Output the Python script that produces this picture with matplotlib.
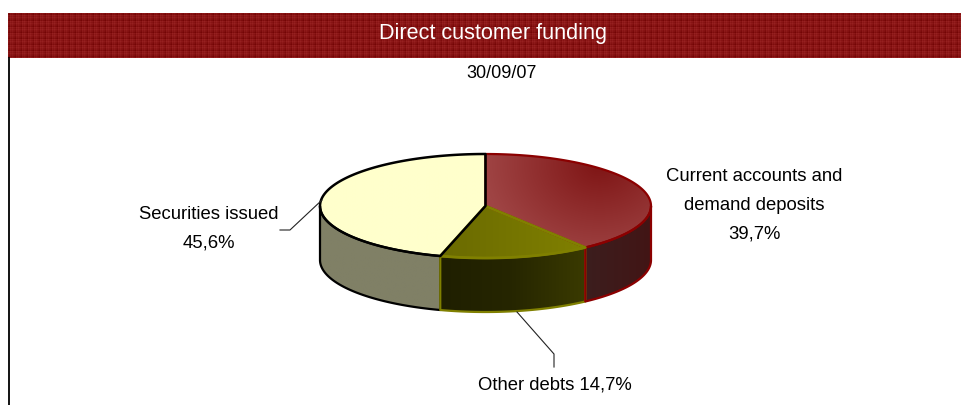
import numpy as np
import matplotlib
matplotlib.use("Agg")
import matplotlib.pyplot as plt
from matplotlib.colors import LinearSegmentedColormap, to_rgb
from matplotlib.patches import Polygon

shares = [39.7, 14.7, 45.6]
labels = ["Current accounts and\ndemand deposits\n39,7%", "Other debts 14,7%", "Securities issued\n45,6%"]
title = "Direct customer funding"
date = "30/09/07"

CX, CY, A, B, DEPTH = 485.5, 206, 165.5, 52, 54

plt.rcParams["font.family"] = ["Liberation Sans", "DejaVu Sans"]

fig = plt.figure(figsize=(9.62, 4.05), dpi=100)
ax = fig.add_axes([0, 0, 1, 1])


def rim(t0, t1, dy=0):
    t = np.radians(np.linspace(t0, t1, 200))
    return np.column_stack([CX + A * np.sin(t), CY + dy - B * np.cos(t)])


def fill_image(verts, img, edge, lw):
    poly = Polygon(verts, closed=True, facecolor="none", edgecolor="none")
    ax.add_patch(poly)
    x0, y0 = verts.min(axis=0)
    x1, y1 = verts.max(axis=0)
    im = ax.imshow(img, aspect="auto", extent=[x0, x1, y1, y0], zorder=2, interpolation="bilinear")
    im.set_clip_path(poly)
    ax.add_patch(Polygon(verts, closed=True, facecolor="none", edgecolor=edge,
                         linewidth=lw, zorder=3, joinstyle="round"))


def fill_gradient(verts, colors, edge, lw=1.6):
    cmap = LinearSegmentedColormap.from_list("g", colors)
    fill_image(verts, cmap(np.linspace(0, 1, 256))[None, :, :3], edge, lw)


# banner texture
yy, xx = np.mgrid[0:45, 0:954]
tex = 0.35 * (xx % 2 == 0) + 0.35 * (yy % 2 == 0) - 0.5 * (xx % 6 < 2) - 0.5 * (yy % 6 < 2)
cmap = LinearSegmentedColormap.from_list("b", ["#740505", "#962020"])
ax.imshow(tex, cmap=cmap, extent=[8, 962, 58, 13], aspect="auto", interpolation="nearest", zorder=1)
ax.plot([9.5, 9.5], [58, 405], color="black", lw=1.3, zorder=1)

ax.text(493.5, 34, title, color="white", fontsize=15.6, ha="center", va="center", zorder=5)
ax.text(502, 74, date, color="black", fontsize=13, ha="center", va="center")

ang = np.cumsum([0] + shares) * 3.6
apex = np.array([[CX, CY]])

# side walls, colours listed left to right
for t0, t1, colors, edge in [
    (ang[2], 270, ["#808066", "#808066"], "black"),
    (ang[1], ang[2], ["#1f1f00", "#262600", "#3a3a00"], "#808000"),
    (90, ang[1], ["#3c1e1e", "#421515"], "#8b0000"),
]:
    verts = np.vstack([rim(t0, t1), rim(t0, t1, DEPTH)[::-1]])
    fill_gradient(verts, colors, edge)

# top faces
verts = np.vstack([apex, rim(ang[0], ang[1])])
x0, y0 = verts.min(axis=0)
x1, y1 = verts.max(axis=0)
gx, gy = np.meshgrid(np.linspace(x0, x1, 200), np.linspace(y0, y1, 100))
dist = np.clip(np.hypot((gx - 600) / 115, (gy - 165) / 95), 0, 1)[..., None]
img = np.array(to_rgb("#7f1515")) * (1 - dist) + np.array(to_rgb("#9f4444")) * dist
fill_image(verts, img, "#8b0000", 1.6)

fill_gradient(np.vstack([apex, rim(ang[1], ang[2])]), ["#6a6a00", "#808000"], "#808000", lw=2)
fill_gradient(np.vstack([apex, rim(ang[2], ang[3])]), ["#ffffcc", "#ffffcc"], "black", lw=1.8)

# leader lines
ax.plot([322, 290, 280], [200, 230, 230], color="#222222", lw=0.8, zorder=4)
ax.plot([517, 554, 554], [312, 354, 367], color="#222222", lw=0.8, zorder=4)

ax.text(754, 205, labels[0], fontsize=13.3, ha="center", va="center", linespacing=1.92)
ax.text(554.5, 385, labels[1], fontsize=13.3, ha="center", va="center")
ax.text(209, 228.5, labels[2], fontsize=13.3, ha="center", va="center", linespacing=1.92)

ax.set_xlim(0, 962)
ax.set_ylim(405, 0)
ax.axis("off")

fig.savefig("out.png", dpi=100)
